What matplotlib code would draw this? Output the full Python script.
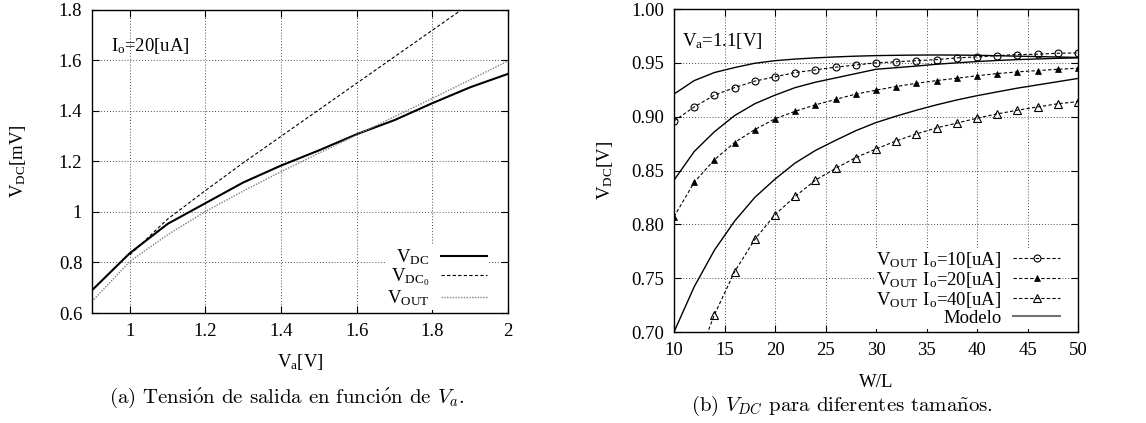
import matplotlib
matplotlib.use("Agg")
import matplotlib.pyplot as plt
import numpy as np

plt.rcParams["font.family"] = ["Liberation Serif", "DejaVu Serif"]
plt.rcParams["mathtext.fontset"] = "cm"
plt.rcParams["font.size"] = 13.5

# (a) V_DC vs V_a, I_o = 20 uA
va = [0.9, 1.0, 1.1, 1.2, 1.3, 1.4, 1.5, 1.6, 1.7, 1.8, 1.9, 2.0]
vdc = [0.690, 0.837, 0.953, 1.035, 1.117, 1.184, 1.244, 1.308, 1.364, 1.431, 1.494, 1.547]
va0 = [1.0, 1.1, 1.2, 1.3, 1.4, 1.5, 1.6, 1.7, 1.8, 1.9, 2.0]
vdc0 = [0.830, 0.972, 1.085, 1.195, 1.300, 1.405, 1.510, 1.615, 1.720, 1.825, 1.930]
vout = [0.646, 0.804, 0.910, 1.002, 1.083, 1.160, 1.233, 1.305, 1.378, 1.450, 1.524, 1.598]

# (b) V_DC vs W/L, V_a = 1.1 V
wl = [10, 12, 14, 16, 18, 20, 22, 24, 26, 28, 30, 32, 34, 36, 38, 40, 42, 44, 46, 48, 50]
vout_10 = [0.896, 0.909, 0.920, 0.927, 0.933, 0.937, 0.941, 0.9434, 0.946, 0.948, 0.950,
           0.951, 0.952, 0.953, 0.9546, 0.9555, 0.9567, 0.9577, 0.958, 0.9589, 0.9592]
vout_20 = [0.807, 0.839, 0.860, 0.876, 0.888, 0.898, 0.905, 0.911, 0.916, 0.921, 0.9246,
           0.928, 0.931, 0.9335, 0.9357, 0.938, 0.940, 0.9416, 0.9428, 0.944, 0.945]
vout_40 = [0.610, 0.667, 0.716, 0.756, 0.786, 0.809, 0.826, 0.841, 0.852, 0.862, 0.870,
           0.8775, 0.884, 0.8896, 0.894, 0.8986, 0.9026, 0.906, 0.909, 0.912, 0.914]
model_10 = [0.921, 0.9335, 0.941, 0.9456, 0.9496, 0.952, 0.9535, 0.9546, 0.9555, 0.9562, 0.9567,
            0.957, 0.9572, 0.9573, 0.9572, 0.957, 0.9566, 0.9562, 0.9558, 0.9554, 0.955]
model_20 = [0.841, 0.8676, 0.886, 0.901, 0.912, 0.920, 0.927, 0.932, 0.936, 0.940, 0.944,
            0.9455, 0.947, 0.9487, 0.950, 0.9512, 0.9522, 0.953, 0.9536, 0.9542, 0.9546]
model_40 = [0.700, 0.742, 0.776, 0.803, 0.825, 0.842, 0.857, 0.8686, 0.878, 0.887, 0.8945,
            0.9005, 0.906, 0.911, 0.9155, 0.9195, 0.923, 0.9265, 0.9295, 0.9325, 0.9355]


def style_axes(ax):
    ax.tick_params(direction="in", top=True, right=True, length=5, width=0.8, pad=7)
    ax.grid(True, color="0.3", linestyle=(0, (1, 2)), linewidth=0.7)
    for s in ax.spines.values():
        s.set_linewidth(1.0)
        s.set_zorder(6)


def make_legend(ax, anchor):
    leg = ax.legend(loc="lower right", bbox_to_anchor=anchor, markerfirst=False,
                    frameon=True, fancybox=False, handlelength=2.5, handletextpad=0.6,
                    labelspacing=0.0, borderpad=0.1, borderaxespad=0.0, fontsize=13.5)
    leg.get_frame().set_edgecolor("none")
    leg.get_frame().set_facecolor("white")
    leg.get_frame().set_alpha(1)
    return leg


def plot_left(ax):
    ax.plot(va, vdc, color="black", lw=1.5, label=r"$\mathdefault{V_{DC}}$")
    ax.plot(va0, vdc0, color="black", lw=0.8, linestyle=(0, (3, 2)), label=r"$\mathdefault{V_{DC_0}}$")
    ax.plot(va, vout, color="0.5", lw=1.0, linestyle=(0, (1, 1)), label=r"$\mathdefault{V_{OUT}}$")
    ax.set_xlim(0.9, 2.0)
    ax.set_ylim(0.6, 1.8)
    ax.set_xticks([1, 1.2, 1.4, 1.6, 1.8, 2])
    ax.set_xticklabels(["1", "1.2", "1.4", "1.6", "1.8", "2"])
    ax.set_yticks([0.6, 0.8, 1.0, 1.2, 1.4, 1.6, 1.8])
    ax.set_yticklabels(["0.6", "0.8", "1", "1.2", "1.4", "1.6", "1.8"])
    style_axes(ax)
    ax.set_xlabel(r"$\mathdefault{V_a}$[V]", labelpad=9)
    ax.set_ylabel(r"$\mathdefault{V_{DC}}$[mV]", labelpad=22)
    ax.text(0.045, 0.88, r"$\mathdefault{I_o}$=20[uA]", transform=ax.transAxes, va="center")
    make_legend(ax, (0.955, 0.01))


def plot_right(ax):
    mk = dict(color="black", lw=0.8, linestyle=(0, (3, 2)))
    ax.plot(wl, vout_10, marker="o", ms=5, mfc="none", mew=0.8,
            label=r"$\mathdefault{V_{OUT}\ I_o}$=10[uA]", **mk)
    ax.plot(wl, vout_20, marker="^", ms=3.8, mfc="black", mew=0.5,
            label=r"$\mathdefault{V_{OUT}\ I_o}$=20[uA]", **mk)
    ax.plot(wl, vout_40, marker="^", ms=5.5, mfc="none", mew=0.8,
            label=r"$\mathdefault{V_{OUT}\ I_o}$=40[uA]", **mk)
    ax.plot(wl, model_10, color="black", lw=1.0, label="Modelo")
    ax.plot(wl, model_20, color="black", lw=1.0)
    ax.plot(wl, model_40, color="black", lw=1.0)
    ax.set_xlim(10, 50)
    ax.set_ylim(0.70, 1.00)
    ax.set_xticks(np.arange(10, 51, 5))
    ax.set_yticks([0.70, 0.75, 0.80, 0.85, 0.90, 0.95, 1.00])
    ax.set_yticklabels(["0.70", "0.75", "0.80", "0.85", "0.90", "0.95", "1.00"])
    style_axes(ax)
    ax.set_xlabel("W/L", labelpad=11)
    ax.set_ylabel(r"$\mathdefault{V_{DC}}$[V]", labelpad=12)
    ax.text(0.02, 0.9, r"$\mathdefault{V_a}$=1.1[V]", transform=ax.transAxes, va="center")
    leg = make_legend(ax, (0.96, 0.01))
    leg.get_lines()[3].set_color("0.45")
    leg.get_lines()[3].set_linewidth(1.5)


fig = plt.figure(figsize=(11.46, 4.23), dpi=100)
ax1 = fig.add_axes([92 / 1146, 1 - 313 / 423, 416 / 1146, 303 / 423])
ax2 = fig.add_axes([674 / 1146, 1 - 332 / 423, 404 / 1146, 323 / 423])
plot_left(ax1)
plot_right(ax2)

cap = dict(family="cmr10", fontsize=15, ha="center", va="center")
fig.text(287 / 1146, 1 - 398 / 423,
         r"(a) Tensi$\acute{\rm o}$n de salida en funci$\acute{\rm o}$n de $V_a$.", **cap)
fig.text(842 / 1146, 1 - 406 / 423,
         r"(b) $V_{DC}$ para diferentes tama$\tilde{\rm n}$os.", **cap)

fig.savefig("out.png", dpi=100)
